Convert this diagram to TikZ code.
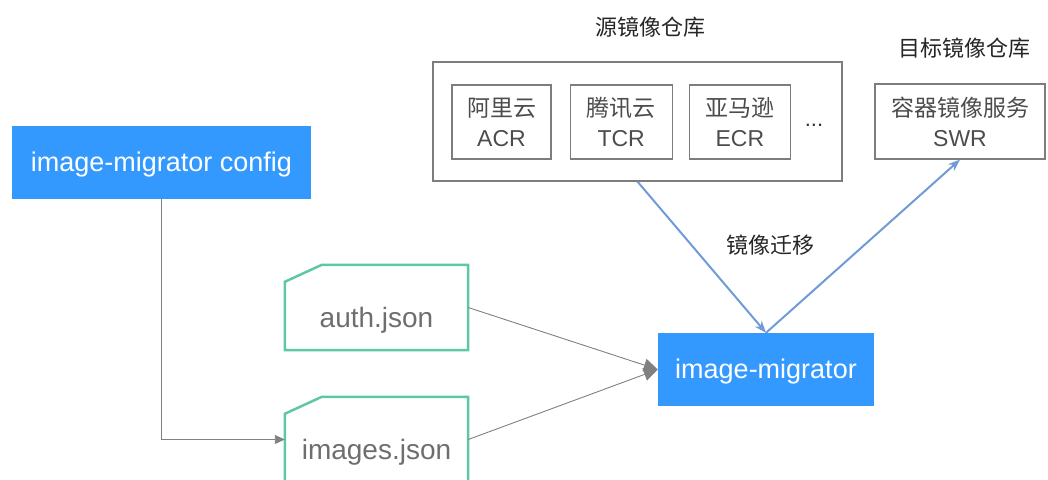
\documentclass[tikz,border=0pt]{standalone}
\usepackage{fontspec}
\setmainfont{Liberation Sans}
\newfontfamily\cjk{Noto Sans CJK SC}
\usetikzlibrary{arrows.meta, positioning}
\definecolor{migblue}{RGB}{51,153,255}
\definecolor{filegreen}{RGB}{94,201,160}
\definecolor{linkblue}{RGB}{112,155,214}
\definecolor{boxgray}{RGB}{125,125,125}
\definecolor{txtgray}{RGB}{110,110,110}

\begin{document}
\begin{tikzpicture}[x=1pt, y=-1pt, every node/.style={font=\fontsize{22}{30}\selectfont},
    tool/.style={fill=migblue, text=white, minimum height=73pt, text height=18pt,
                 text depth=0pt, font=\fontsize{27}{30}\selectfont},
    file/.style={minimum width=183pt, minimum height=85pt, text=txtgray,
                 text height=39pt, text depth=0pt, font=\fontsize{28}{30}\selectfont},
    fileline/.style={draw=filegreen, line width=2.5pt, line join=miter},
    repo/.style={draw=boxgray, line width=1.2pt, minimum height=74pt, align=center,
                 text=black!70, font=\fontsize{23}{30}\selectfont},
    feed/.style={-{Triangle[length=14pt, width=13pt]}, draw=black!50, line width=0.9pt},
    sync/.style={-{Stealth[length=12pt, width=9pt]}, draw=linkblue, line width=2pt}]
    \clip (0,0) rectangle (1048,479);
    % config and files
    \node[tool, minimum width=299pt] (config) at (161.5,162.5) {image-migrator config};
    \node[file] (auth) at (376.5,307.5) {auth.json};
    \node[file] (images) at (376.5,439.5) {images.json};
    \foreach \f in {auth, images}
      \draw[fileline] (\f.south west) -- ([yshift=-17pt]\f.north west)
        -- ([xshift=37pt]\f.north west) -- (\f.north east) -- (\f.south east) -- cycle;
    \node[tool, minimum width=216pt] (migrator) at (766,369.5) {image-migrator};
    % source registries
    \node[draw=boxgray, line width=1.2pt, minimum width=409pt, minimum height=119pt] (src) at (637.5,121.5) {};
    \node[repo, minimum width=99pt] (acr) at (501.5,122) {{\cjk 阿里云}\\ACR};
    \node[repo, minimum width=102pt, right=18pt of acr] (tcr) {{\cjk 腾讯云}\\TCR};
    \node[repo, minimum width=101pt, right=16pt of tcr] (ecr) {{\cjk 亚马逊}\\ECR};
    \node[text=black!80] (more) at (814,125) {...};
    \node[text=black!85] (srclabel) at (650,27) {\cjk 源镜像仓库};
    % target registry
    \node[repo, minimum width=170pt, minimum height=75pt] (swr) at (960,121.5) {{\cjk 容器镜像服务}\\SWR};
    \node[text=black!85] (dstlabel) at (964,48) {\cjk 目标镜像仓库};
    \node[text=black!85] (synclabel) at (770,245) {\cjk 镜像迁移};
    % connectors
    \draw[feed, -{Triangle[length=10pt, width=9pt]}] (config.south) |- (images.west);
    \draw[feed] (auth.east) -- (migrator.west);
    \draw[feed] (images.east) -- (migrator.west);
    \draw[sync] (src.south) -- (migrator.north);
    \draw[sync] (migrator.north) -- (swr.south);
\end{tikzpicture}
\end{document}
